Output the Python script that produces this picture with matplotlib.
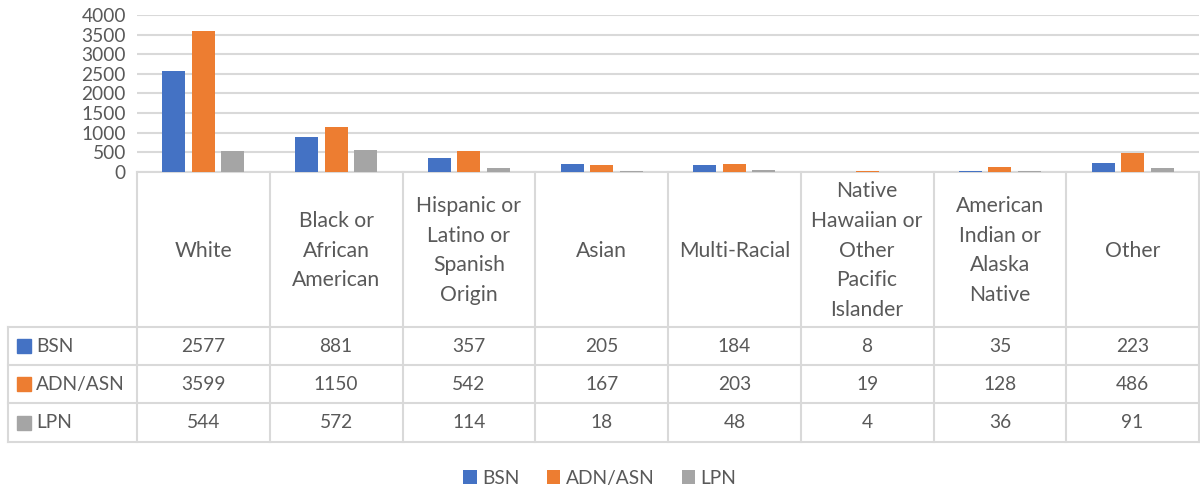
import matplotlib
matplotlib.use("Agg")
import matplotlib.pyplot as plt
from matplotlib.patches import Patch
import numpy as np

categories = ["White", "Black or\nAfrican\nAmerican", "Hispanic or\nLatino or\nSpanish\nOrigin", "Asian",
              "Multi-Racial", "Native\nHawaiian or\nOther\nPacific\nIslander", "American\nIndian or\nAlaska\nNative", "Other"]
series_names = ["BSN", "ADN/ASN", "LPN"]
bsn = [2577, 881, 357, 205, 184, 8, 35, 223]
adn = [3599, 1150, 542, 167, 203, 19, 128, 486]
lpn = [544, 572, 114, 18, 48, 4, 36, 91]
yticks = [0, 500, 1000, 1500, 2000, 2500, 3000, 3500, 4000]

colors = ["#4472C4", "#ED7D31", "#A5A5A5"]
text_color = "#595959"
line_color = "#D9D9D9"
FONT = "Lato"
FS = 13.8
FS_HEAD = 15.2

W, H = 1200, 490
fig = plt.figure(figsize=(W / 100, H / 100), dpi=100)

def fx(px):
    return px / W

def fy(py):
    return 1 - py / H

x0, x1 = 137, 1199
ytop, ybot = 15, 172
ax = fig.add_axes([fx(x0), fy(ybot), fx(x1) - fx(x0), fy(ytop) - fy(ybot)])
n = len(categories)
x = np.arange(n)
off = 0.222
bw = 0.173
for i, vals in enumerate([bsn, adn, lpn]):
    ax.bar(x + (i - 1) * off, vals, width=bw, color=colors[i], zorder=3)
ax.set_xlim(-0.5, n - 0.5)
ax.set_ylim(0, 4000)
ax.set_yticks(yticks)
ax.set_yticklabels([str(t) for t in yticks], fontsize=FS, color=text_color, family=FONT)
ax.tick_params(axis="y", length=0, pad=8)
ax.set_xticks([])
for s in ["left", "right", "top"]:
    ax.spines[s].set_visible(False)
ax.spines["bottom"].set_color(line_color)
ax.spines["bottom"].set_linewidth(1.5)
ax.grid(axis="y", color=line_color, linewidth=1.5, zorder=0)

# data table in pixel coordinates
tab = fig.add_axes([0, 0, 1, 1], facecolor="none")
tab.set_xlim(0, W)
tab.set_ylim(H, 0)
tab.axis("off")
colw = (x1 - x0) / n
row_y = [327, 365, 403, 442]
left = 8
lw = 1.5
for k in range(n + 1):
    xx = x0 + k * colw
    tab.plot([xx, xx], [ybot, row_y[-1]], color=line_color, lw=lw)
tab.plot([left, left], [row_y[0], row_y[-1]], color=line_color, lw=lw)
for yy in row_y:
    tab.plot([left, x1], [yy, yy], color=line_color, lw=lw)
for k, c in enumerate(categories):
    tab.text(x0 + (k + 0.5) * colw, (ybot + row_y[0]) / 2 + 1, c, ha="center", va="center",
             fontsize=FS_HEAD, color=text_color, family=FONT, linespacing=1.6)
for r, (name, vals) in enumerate(zip(series_names, [bsn, adn, lpn])):
    yc = (row_y[r] + row_y[r + 1]) / 2
    tab.add_patch(plt.Rectangle((17, yc - 7), 14, 14, color=colors[r]))
    tab.text(36, yc, name, ha="left", va="center", fontsize=FS, color=text_color, family=FONT)
    for k, v in enumerate(vals):
        tab.text(x0 + (k + 0.5) * colw, yc, str(v), ha="center", va="center",
                 fontsize=FS, color=text_color, family=FONT)

handles = [Patch(facecolor=colors[i], label=series_names[i]) for i in range(3)]
fig.legend(handles=handles, loc="center", bbox_to_anchor=(0.5, fy(478)), ncol=3, frameon=False,
           handlelength=0.7, handleheight=0.7, handletextpad=0.3, columnspacing=1.4,
           prop={"family": FONT, "size": FS}, labelcolor=text_color)

fig.savefig("out.png", dpi=100)
